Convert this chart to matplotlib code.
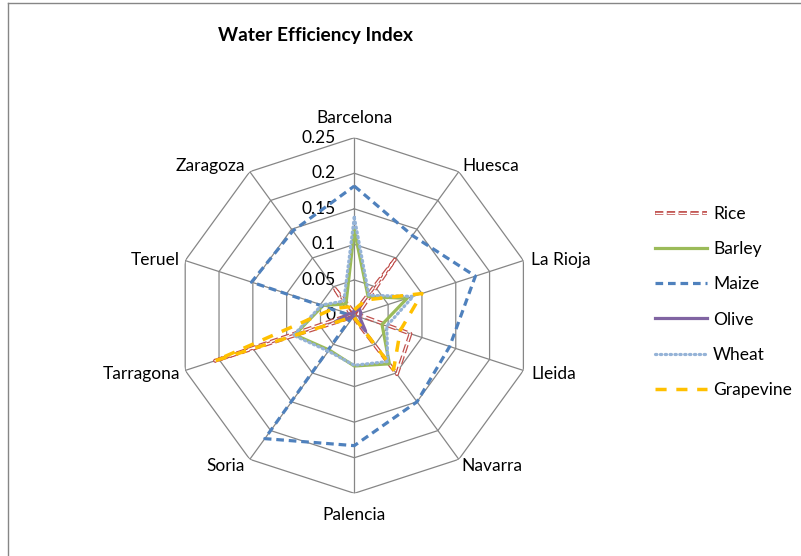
import numpy as np
import matplotlib
matplotlib.use("Agg")
import matplotlib.pyplot as plt
from matplotlib.lines import Line2D
from matplotlib.legend_handler import HandlerTuple

plt.rcParams["font.family"] = ["Lato", "DejaVu Sans"]
plt.rcParams["lines.scale_dashes"] = False

# ── Data ──────────────────────────────────────────────────────────────────
regions = ["Barcelona", "Huesca", "La Rioja", "Lleida", "Navarra",
           "Palencia", "Soria", "Tarragona", "Teruel", "Zaragoza"]
rice      = [0.004, 0.097, 0.005, 0.083, 0.102, 0.004, 0.002, 0.206, 0.005, 0.049]
barley    = [0.120, 0.033, 0.078, 0.041, 0.084, 0.071, 0.060, 0.088, 0.046, 0.020]
maize     = [0.182, 0.139, 0.179, 0.141, 0.150, 0.183, 0.214, 0.003, 0.152, 0.147]
olive     = [0.006, 0.012, 0.010, 0.008, 0.027, 0.003, 0.003, 0.028, 0.008, 0.003]
wheat     = [0.138, 0.035, 0.087, 0.048, 0.080, 0.070, 0.062, 0.090, 0.048, 0.025]
grapevine = [0.008, 0.027, 0.100, 0.068, 0.094, 0.003, 0.002, 0.205, 0.031, 0.015]
ticks = [0, 0.05, 0.1, 0.15, 0.2, 0.25]
tick_labels = ["0", "0.05", "0.1", "0.15", "0.2", "0.25"]

W, H = 801, 556
cx, cy, R = 354.3, 315.5, 177.8
GRID = "#868686"
FS = 12.5

fig = plt.figure(figsize=(W / 100, H / 100), dpi=100)
ax = fig.add_axes([(cx - R) / W, (H - cy - R) / H, 2 * R / W, 2 * R / H],
                  projection="polar")
ax.set_theta_offset(np.pi / 2)
ax.set_theta_direction(-1)
ax.set_ylim(0, 0.25)
ax.grid(False)
ax.spines["polar"].set_visible(False)
ax.set_xticks([])
ax.set_yticks([])
ax.patch.set_alpha(0)

theta = np.linspace(0, 2 * np.pi, len(regions), endpoint=False)
closed = np.append(theta, theta[0])

def close(vals):
    return list(vals) + [vals[0]]

# ── Decagon grid ──────────────────────────────────────────────────────────
for t in ticks[1:]:
    ax.plot(closed, [t] * len(closed), color=GRID, lw=0.9, zorder=1)
for th in theta:
    ax.plot([th, th], [0, ticks[-1]], color=GRID, lw=0.9, zorder=1)

for t, lbl in zip(ticks, tick_labels):
    ax.annotate(lbl, xy=(0, t), xytext=(-19, 0), textcoords="offset pixels",
                ha="right", va="center", fontsize=FS)

offsets = {"Barcelona": (0, 20, "center"), "Huesca": (4, 6, "left"),
           "La Rioja": (8, 1, "left"), "Lleida": (8, -4, "left"),
           "Navarra": (3, -7, "left"), "Palencia": (0, -22, "center"),
           "Soria": (-5, -7, "right"), "Tarragona": (-5, -4, "right"),
           "Teruel": (-5, 1, "right"), "Zaragoza": (-5, 6, "right")}
for th, name in zip(theta, regions):
    dx, dy, ha = offsets[name]
    ax.annotate(name, xy=(th, ticks[-1]), xytext=(dx, dy),
                textcoords="offset pixels", ha=ha, va="center", fontsize=FS)

# ── Series ────────────────────────────────────────────────────────────────
RED, GREEN, BLUE = "#C0504D", "#9BBB59", "#4F81BD"
PURPLE, LBLUE, ORANGE = "#8064A2", "#95B3D7", "#FFC000"

ax.plot(closed, close(rice), color=RED, lw=2.8, ls=(0, (6, 2.5)), zorder=3)
ax.plot(closed, close(rice), color="white", lw=1.0, ls=(0, (6, 2.5)), zorder=3)
ax.plot(closed, close(barley), color=GREEN, lw=2.3, zorder=4)
ax.plot(closed, close(maize), color=BLUE, lw=2.3, ls=(0, (5.5, 3.5)), zorder=5)
ax.plot(closed, close(olive), color=PURPLE, lw=2.3, zorder=6)
ax.plot(closed, close(wheat), color=LBLUE, lw=2.3, ls=(0, (1, 2.5)),
        dash_capstyle="round", zorder=7)
ax.plot(closed, close(grapevine), color=ORANGE, lw=2.5, ls=(0, (8, 7)), zorder=8)

# ── Title, legend, frame ──────────────────────────────────────────────────
fig.text(316 / W, 1 - 35 / H, "Water Efficiency Index", ha="center", va="center",
         fontsize=13.8, fontweight="bold")

handles = [
    (Line2D([], [], color=RED, lw=2.8, ls=(0, (6, 2.5))),
     Line2D([], [], color="white", lw=1.0, ls=(0, (6, 2.5)))),
    Line2D([], [], color=GREEN, lw=2.3),
    Line2D([], [], color=BLUE, lw=2.3, ls=(0, (5.5, 3.5))),
    Line2D([], [], color=PURPLE, lw=2.3),
    Line2D([], [], color=LBLUE, lw=2.3, ls=(0, (1, 2.5)), dash_capstyle="round"),
    Line2D([], [], color=ORANGE, lw=2.5, ls=(0, (8, 7))),
]
labels = ["Rice", "Barley", "Maize", "Olive", "Wheat", "Grapevine"]
fig.legend(handles, labels, handler_map={tuple: HandlerTuple(ndivide=1)},
           loc="center left", bbox_to_anchor=(655 / W, 1 - 302 / H),
           frameon=False, fontsize=FS, handlelength=3.0, handletextpad=0.35,
           labelspacing=1.1, borderpad=0, borderaxespad=0)

fig.add_artist(Line2D([8 / W, 8 / W], [0, 1 - 3 / H], transform=fig.transFigure,
                      color=GRID, lw=1))
fig.add_artist(Line2D([8 / W, 1], [1 - 3 / H, 1 - 3 / H], transform=fig.transFigure,
                      color=GRID, lw=1))

fig.savefig("out.png", dpi=100)
